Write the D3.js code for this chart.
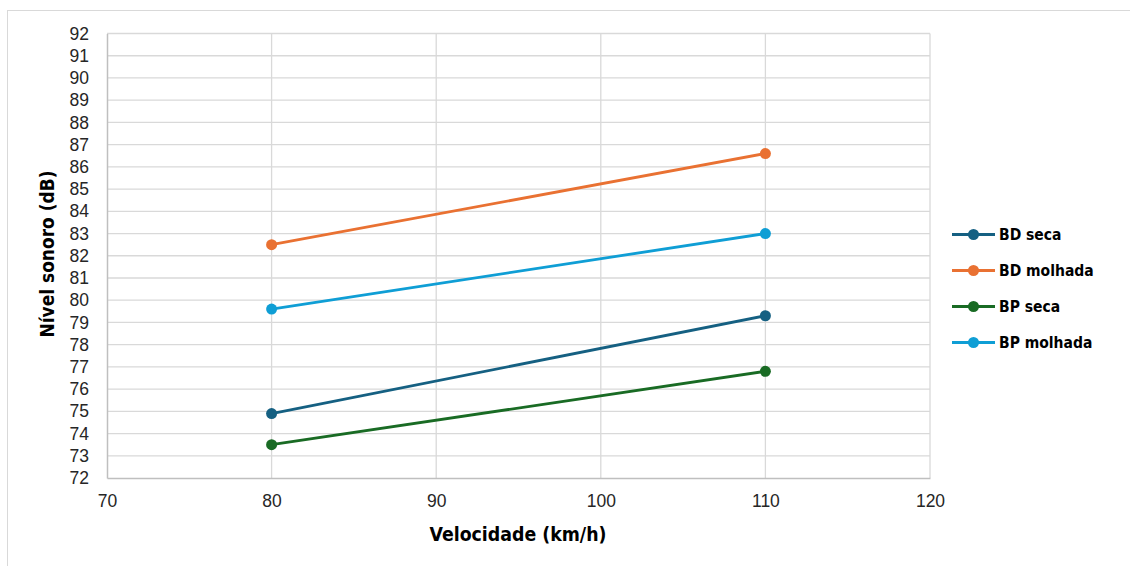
<!DOCTYPE html>
<html><head><meta charset="utf-8">
<script src="https://cdn.jsdelivr.net/npm/d3@7"></script>
<style>body{margin:0;background:#fff}svg{display:block}</style>
</head><body><svg id="c" width="1130" height="566"></svg>
<script>
const speeds = [80, 110];
const seriesNames = ["BD seca", "BD molhada", "BP seca", "BP molhada"];
const bdSeca = [74.9, 79.3];
const bdMolhada = [82.5, 86.6];
const bpSeca = [73.5, 76.8];
const bpMolhada = [79.6, 83.0];
const colors = ["#156082", "#E97132", "#196B24", "#0F9ED5"];
const xTicks = [70, 80, 90, 100, 110, 120];
const yTicks = d3.range(72, 93, 1);

const seriesValues = [bdSeca, bdMolhada, bpSeca, bpMolhada];
const svg = d3.select("#c");
const condensed = "'Liberation Sans Narrow','Arial Narrow','DejaVu Sans Condensed',sans-serif";

// outer frame
svg.append("rect").attr("x", 7.5).attr("y", 10.5).attr("width", 1140).attr("height", 600)
  .attr("fill", "none").attr("stroke", "#d9d9d9").attr("stroke-width", 1);

const x = d3.scaleLinear().domain([70, 120]).range([107, 930]);
const y = d3.scaleLinear().domain([72, 92]).range([478, 33.5]);

// gridlines
svg.append("g").selectAll("line").data(yTicks.filter(d => d !== 72)).join("line")
  .attr("x1", x(70)).attr("x2", x(120)).attr("y1", d => y(d)).attr("y2", d => y(d))
  .attr("stroke", "#d9d9d9").attr("stroke-width", 1.3);
svg.append("g").selectAll("line").data(xTicks.filter(d => d !== 70)).join("line")
  .attr("x1", d => x(d)).attr("x2", d => x(d)).attr("y1", y(72)).attr("y2", y(92))
  .attr("stroke", "#d9d9d9").attr("stroke-width", 1.3);

// axes
const yAxis = svg.append("g").attr("transform", `translate(${x(70)},0)`)
  .call(d3.axisLeft(y).tickValues(yTicks).tickSize(0).tickPadding(18));
const xAxis = svg.append("g").attr("transform", `translate(0,${y(72)})`)
  .call(d3.axisBottom(x).tickValues(xTicks).tickSize(0).tickPadding(17));
[yAxis, xAxis].forEach(a => {
  a.select(".domain").attr("stroke", "#bfbfbf").attr("stroke-width", 1.5);
  a.selectAll("text").attr("font-family", "'Liberation Sans',Arial,sans-serif")
    .attr("font-size", 17.5).attr("fill", "#262626");
});

// series
const line = d3.line().x((d, i) => x(speeds[i])).y(d => y(d));
seriesValues.forEach((vals, si) => {
  svg.append("path").datum(vals).attr("d", line).attr("fill", "none")
    .attr("stroke", colors[si]).attr("stroke-width", 2.8);
  svg.append("g").selectAll("circle").data(vals).join("circle")
    .attr("cx", (d, i) => x(speeds[i])).attr("cy", d => y(d)).attr("r", 5.5)
    .attr("fill", colors[si]);
});

// axis titles
svg.append("text").attr("x", 518).attr("y", 541).attr("text-anchor", "middle")
  .attr("font-family", condensed).attr("font-weight", "bold").attr("font-size", 19)
  .attr("textLength", 177).attr("lengthAdjust", "spacingAndGlyphs")
  .attr("fill", "#000").text("Velocidade (km/h)");
svg.append("text").attr("transform", "translate(54,254) rotate(-90)").attr("text-anchor", "middle")
  .attr("font-family", condensed).attr("font-weight", "bold").attr("font-size", 19)
  .attr("textLength", 167).attr("lengthAdjust", "spacingAndGlyphs")
  .attr("fill", "#000").text("Nível sonoro (dB)");

// legend
const lg = svg.append("g");
seriesNames.forEach((n, i) => {
  const ly = 234.5 + i * 36;
  lg.append("line").attr("x1", 952).attr("x2", 995).attr("y1", ly).attr("y2", ly)
    .attr("stroke", colors[i]).attr("stroke-width", 2.8);
  lg.append("circle").attr("cx", 973.5).attr("cy", ly).attr("r", 5.5).attr("fill", colors[i]);
  lg.append("text").attr("x", 999).attr("y", ly).attr("dy", "0.35em")
    .attr("font-family", condensed).attr("font-weight", "bold").attr("font-size", 15.5)
    .attr("fill", "#000").text(n);
});
</script></body></html>
